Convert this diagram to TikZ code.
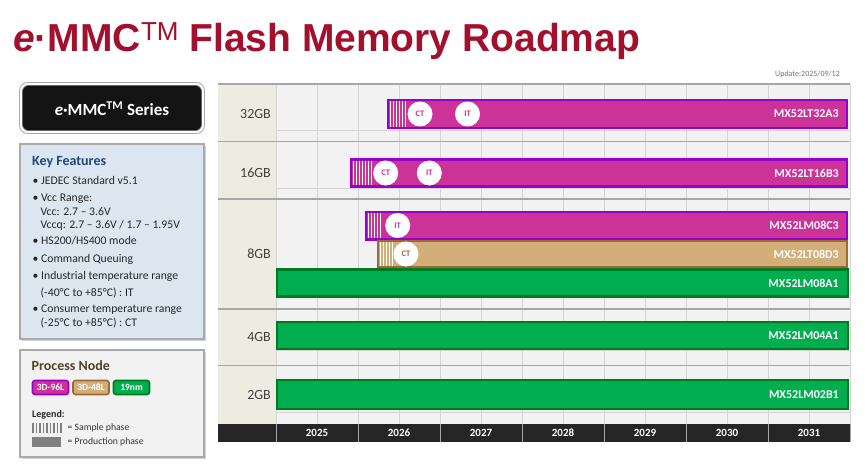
\documentclass[tikz,border=0pt]{standalone}
\usepackage{fontspec}
\setmainfont{Carlito}
\newfontfamily\arialf{Liberation Sans}
\definecolor{titlered}{RGB}{163,16,45}
\definecolor{labelbg}{RGB}{238,236,225}
\definecolor{gridbg}{RGB}{242,242,242}
\definecolor{gridln}{RGB}{212,212,212}
\definecolor{rowln}{RGB}{166,166,166}
\definecolor{yearbg}{RGB}{38,38,38}
\definecolor{magfill}{RGB}{204,51,153}
\definecolor{magline}{RGB}{153,0,204}
\definecolor{tanfill}{RGB}{210,175,120}
\definecolor{tanline}{RGB}{156,106,54}
\definecolor{grnfill}{RGB}{0,173,79}
\definecolor{grnline}{RGB}{0,122,30}
\definecolor{kfblue}{RGB}{31,73,125}
\definecolor{kfbg}{RGB}{220,230,241}
\definecolor{pnbrown}{RGB}{84,66,38}
\definecolor{boxline}{RGB}{170,170,170}
\definecolor{txtgray}{RGB}{64,64,64}
\tikzset{
  magbar/.style={draw=magline, fill=magfill, line width=2.4pt},
  tanbar/.style={draw=tanline, fill=tanfill, line width=2.4pt},
  grnbar/.style={draw=grnline, fill=grnfill, line width=2.4pt},
  hatchln/.style={white, line width=1.1pt},
  phase/.style={circle, fill=white, minimum size=25pt, inner sep=0pt, font=\fontsize{8.5}{8.5}\selectfont\bfseries},
  barlabel/.style={anchor=east, inner sep=0pt, text=white, font=\fontsize{12}{12}\selectfont\bfseries},
  rowlabel/.style={anchor=east, inner sep=0pt, text=txtgray, font=\fontsize{14}{14}\selectfont},
  yearlabel/.style={inner sep=0pt, text=white, font=\fontsize{11}{11}\selectfont\bfseries},
  feat/.style={anchor=base west, inner sep=0pt, text=black!85, font=\fontsize{11.7}{11.7}\selectfont},
  badge/.style={rounded corners=2.5pt, line width=1.6pt, minimum width=36pt, minimum height=14pt, inner sep=0pt, text=white, font=\fontsize{9.5}{9.5}\selectfont\bfseries},
}
\begin{document}
\begin{tikzpicture}[x=1pt,y=-1pt]
\useasboundingbox[fill=white] (0,0) rectangle (865,468);

% ---------- title ----------
\node[anchor=base west, inner sep=0pt, text=titlered] (title) at (13,52)
  {\arialf\fontsize{39}{40}\selectfont\bfseries\itshape e\upshape·MMC\raisebox{11pt}{\mdseries\fontsize{26}{26}\selectfont TM} Flash Memory Roadmap};
\node[anchor=east, inner sep=0pt, text=black!55, font=\fontsize{8}{8}\selectfont] (update) at (840,74.5) {Update:2025/09/12};

% ---------- chart background ----------
\fill[labelbg] (218,84) rectangle (276,424);
\fill[gridbg] (276,84) rectangle (850,424);
\foreach \i in {0,...,14} \draw[gridln, line width=0.9pt] ({276+41*\i},84) -- ({276+41*\i},424);
\foreach \yy in {130,188,350,412} \draw[gridln, line width=0.9pt] (276,\yy) -- (850,\yy);
\foreach \yy in {84,141.5,199,309,365.5} \draw[rowln, line width=1.8pt] (218,\yy) -- (850,\yy);

% year bar
\fill[yearbg] (218,424) rectangle (850,442);
\foreach \i in {0,...,7} \draw[rowln, line width=0.9pt] ({276+82*\i},424) -- ({276+82*\i},442);
\foreach \yr [count=\i from 0] in {2025,2026,2027,2028,2029,2030,2031}
  \node[yearlabel] (y\yr) at ({317+82*\i},433) {\yr};

% row labels
\node[rowlabel] (r32) at (271,114) {32GB};
\node[rowlabel] (r16) at (271,172.5) {16GB};
\node[rowlabel] (r8) at (271,254) {8GB};
\node[rowlabel] (r4) at (271,337) {4GB};
\node[rowlabel] (r2) at (271,395.5) {2GB};

% ---------- bars ----------
% 32GB
\draw[magbar] (388.2,100.2) rectangle (846.8,127.8);
\foreach \k in {0,...,5} \draw[hatchln] ({390.8+3*\k},101.4) -- ({390.8+3*\k},126.6);
\node[phase, text=magfill] (ct32) at (420,114) {CT};
\node[phase, text=magfill] (it32) at (467.5,114) {IT};
\node[barlabel] (p32) at (839,114) {MX52LT32A3};

% 16GB
\draw[magbar] (350.7,159.5) rectangle (846.8,186.5);
\foreach \k in {0,...,6} \draw[hatchln] ({353.8+3*\k},160.7) -- ({353.8+3*\k},185.3);
\node[phase, text=magfill] (ct16) at (385.7,173) {CT};
\node[phase, text=magfill] (it16) at (429.3,173) {IT};
\node[barlabel] (p16) at (839,173) {MX52LT16B3};

% 8GB
\draw[magbar] (366.2,211.7) rectangle (846.8,239.5);
\foreach \k in {0,...,4} \draw[hatchln] ({368.8+3*\k},212.9) -- ({368.8+3*\k},238.3);
\node[phase, text=magfill] (it8) at (397.7,225.5) {IT};
\node[barlabel] (p8c) at (839,225.5) {MX52LM08C3};

\draw[tanbar] (378,241) rectangle (846.8,267);
\foreach \k in {0,...,4} \draw[hatchln] ({380.3+3*\k},242.2) -- ({380.3+3*\k},265.8);
\node[phase, text=tanline] (ct8) at (406,254) {CT};
\node[barlabel] (p8d) at (839,254) {MX52LT08D3};

\draw[grnbar] (277.2,269.4) rectangle (847.8,296.6);
\node[barlabel] (p8a) at (839,283) {MX52LM08A1};

% 4GB
\draw[grnbar] (277.2,322.2) rectangle (847.8,348.8);
\node[barlabel] (p4) at (839,335.5) {MX52LM04A1};

% 2GB
\draw[grnbar] (277.2,380.2) rectangle (847.8,408.8);
\node[barlabel] (p2) at (839,394.5) {MX52LM02B1};

% ---------- left panel ----------
% series button
\draw[rounded corners=8pt, black!35, line width=0.8pt, fill=white] (19.5,82.5) rectangle (204.5,133.5);
\draw[rounded corners=6pt, fill=black!92, draw=black!60, line width=0.8pt] (22.5,85.5) rectangle (201.5,130.5);
\node[text=white, inner sep=0pt, font=\fontsize{17}{17}\selectfont\bfseries] (series) at (112,108.5)
  {\itshape e\upshape·MMC\textsuperscript{TM} Series};

% key features box
\fill[black!18] (22,146) rectangle (206,341);
\draw[fill=kfbg, draw=boxline, line width=1.2pt] (20,144) rectangle (204,339);
\node[anchor=base west, inner sep=0pt, text=kfblue, font=\fontsize{14}{14}\selectfont\bfseries] (kf) at (32,165.5) {Key Features};
\node[feat] (f1) at (32.5,184) {•\ JEDEC Standard v5.1};
\node[feat] (f2) at (32.5,201) {•\ Vcc Range:};
\node[feat] (f3) at (40.5,215) {Vcc: 2.7 – 3.6V};
\node[feat] (f4) at (40.5,228) {Vccq: 2.7 – 3.6V / 1.7 – 1.95V};
\node[feat] (f5) at (32.5,244) {•\ HS200/HS400 mode};
\node[feat] (f6) at (32.5,262) {•\ Command Queuing};
\node[feat] (f7) at (32.5,279.5) {•\ Industrial temperature range};
\node[feat] (f8) at (40.5,296) {(-40°C to +85°C) : IT};
\node[feat] (f9) at (32.5,312.5) {•\ Consumer temperature range};
\node[feat] (f10) at (40.5,326.5) {(-25°C to +85°C) : CT};

% process node box
\fill[black!18] (22,352) rectangle (206,459);
\draw[fill=gridbg, draw=boxline, line width=1.2pt] (20,350) rectangle (204,457);
\node[anchor=base west, inner sep=0pt, text=pnbrown, font=\fontsize{14}{14}\selectfont\bfseries] (pn) at (31.5,370.5) {Process Node};
\node[badge, draw=magline, fill=magfill] (b96) at (50.5,387.5) {3D-96L};
\node[badge, draw=tanline, fill=tanfill] (b48) at (91,387.5) {3D-48L};
\node[badge, draw=grnline, fill=grnfill] (b19) at (131.5,387.5) {19nm};
\node[anchor=base west, inner sep=0pt, text=black!85, font=\fontsize{10}{10}\selectfont\bfseries] (lg) at (32,417.5) {Legend:};
\foreach \k in {0,...,8} \draw[black!50, line width=1.3pt] ({33+3.5*\k},423) -- ({33+3.5*\k},433);
\fill[black!50] (32,437) rectangle (61,447);
\node[anchor=west, inner sep=0pt, text=black!80, font=\fontsize{9.7}{9.7}\selectfont] (ls) at (67.5,427.5) {= Sample phase};
\node[anchor=west, inner sep=0pt, text=black!80, font=\fontsize{9.7}{9.7}\selectfont] (lp) at (67.5,441.5) {= Production phase};
\end{tikzpicture}
\end{document}
